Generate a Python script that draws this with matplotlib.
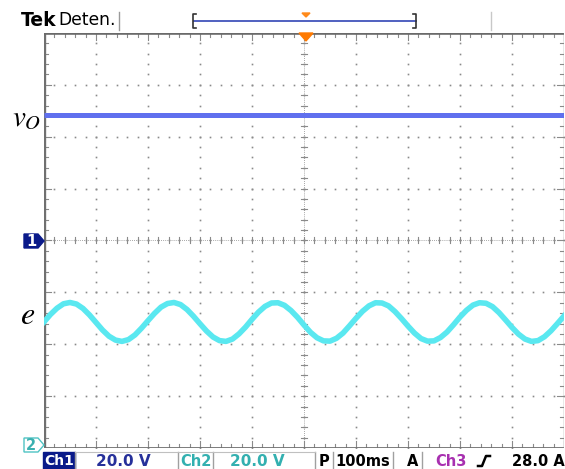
import numpy as np
import matplotlib
matplotlib.use("Agg")
import matplotlib.pyplot as plt
from matplotlib.patches import Polygon, Rectangle

plt.rcParams['mathtext.fontset'] = 'stix'

# screen settings
volts_per_div = 20.0          # Ch1 and Ch2
ms_per_div = 100.0
ch1_offset_div = 4.0          # ground marker 1
ch2_offset_div = 0.06         # ground marker 2

# Ch1: output voltage v_O (flat DC level, V)
vo_level = 48.4

# Ch2: source e, one sample every 12.5 ms (V)
e_values = [47.4, 50.3, 52.7, 54.4, 54.9, 54.3, 52.6, 50.1, 47.2, 44.3,
            41.9, 40.4, 39.9, 40.6, 42.4, 45.0, 47.9, 50.7, 53.1, 54.5,
            54.9, 54.1, 52.2, 49.6, 46.7, 43.9, 41.6, 40.2, 39.9, 40.8,
            42.8, 45.4, 48.4, 51.2, 53.4, 54.7, 54.8, 53.8, 51.8, 49.2,
            46.2, 43.4, 41.3, 40.1, 40.0, 41.1, 43.1, 45.9, 48.8, 51.5,
            53.6, 54.8, 54.7, 53.6, 51.4, 48.7, 45.8, 43.1, 41.0, 40.0,
            40.1, 41.4, 43.5, 46.3, 49.3, 51.9, 53.9, 54.8, 54.6, 53.3,
            51.0, 48.2, 45.3, 42.7, 40.8, 39.9, 40.2, 41.7, 44.0, 46.8,
            49.7]
t_ms = np.arange(len(e_values)) * 12.5

W, H = 565, 469
fig = plt.figure(figsize=(W / 100, H / 100), dpi=100)
fig.patch.set_facecolor('white')

# graticule area in pixels
gx0, gy0, gw, gh = 44, 33, 520, 415
ax = fig.add_axes([gx0 / W, (H - gy0 - gh) / H, gw / W, gh / H])
ax.set_xlim(0, 10)
ax.set_ylim(0, 8)
ax.axis('off')

grid_c = '#8a8a8a'
sub = np.arange(0, 10.01, 0.2)
subv = np.arange(0, 8.01, 0.2)
# dotted division lines
for i in range(1, 10):
    ax.plot(np.full_like(subv, i), subv, 's', ms=1.2, color=grid_c, mew=0)
for j in range(1, 8):
    ax.plot(sub, np.full_like(sub, j), 's', ms=1.2, color=grid_c, mew=0)

px = 10 / gw   # one pixel in x data units
py = 8 / gh
# centre axes with small ticks
for y in subv:
    ax.plot([5 - 3 * px, 5 + 3 * px], [y, y], color=grid_c, lw=0.8)
for x in sub:
    ax.plot([x, x], [4 - 3 * py, 4 + 3 * py], color=grid_c, lw=0.8)
ax.plot([5, 5], [0, 8], color=grid_c, lw=0.6, ls=(0, (1, 1.5)))
ax.plot([0, 10], [4, 4], color=grid_c, lw=0.6, ls=(0, (1, 1.5)))

# border ticks
for y in subv:
    L = 7 if abs(y - round(y)) < 1e-6 else 4
    ax.plot([0, L * px], [y, y], color=grid_c, lw=0.8)
    ax.plot([10 - L * px, 10], [y, y], color=grid_c, lw=0.8)
for x in sub:
    L = 7 if abs(x - round(x)) < 1e-6 else 4
    ax.plot([x, x], [8, 8 - L * py], color=grid_c, lw=0.8)
    ax.plot([x, x], [0, L * py], color=grid_c, lw=0.8)
# thick frame
ax.plot([0, 0], [0, 8], color='#707070', lw=2.4, solid_capstyle='butt')
ax.plot([0, 10], [8, 8], color='#6a6a6a', lw=2.6, solid_capstyle='butt')
ax.plot([0, 10], [0, 0], color='#707070', lw=2.0, solid_capstyle='butt')
ax.plot([10, 10], [0, 8], color='#909090', lw=1.0)

# traces
ax.plot([0, 10], [ch1_offset_div + vo_level / volts_per_div] * 2,
        color='#6070ee', lw=3.6, solid_capstyle='butt', zorder=5)
ax.plot(t_ms / ms_per_div, ch2_offset_div + np.array(e_values) / volts_per_div,
        color='#5ae8f0', lw=4.0, zorder=5)

# overlay in pixel coordinates for the header, footer and markers
ov = fig.add_axes([0, 0, 1, 1], facecolor='none')
ov.set_xlim(0, W)
ov.set_ylim(H, 0)
ov.axis('off')

# header
ov.text(21, 20, 'Tek', fontsize=13.5, fontweight='bold', va='center', ha='left')
ov.text(58, 20, 'Deten.', fontsize=12.3, va='center', ha='left')
ov.plot([119, 119], [12, 30], color='#9a9a9a', lw=1)
ov.plot([491, 491], [12, 30], color='#c8c8c8', lw=1)
ov.plot([194, 416], [21, 21], color='#5060c0', lw=1.4)
ov.plot([196, 193, 193, 196], [14, 14, 28, 28], color='#333333', lw=1.2)
ov.plot([413, 416, 416, 413], [14, 14, 28, 28], color='#333333', lw=1.2)
ov.add_patch(Polygon([[302, 13], [310, 13], [306, 17]], color='#ff8a1a'))
ov.add_patch(Polygon([[299, 33], [313, 33], [306, 41]], color='#ff7a00', zorder=6))

# ground markers
ov.add_patch(Polygon([[24, 234], [38, 234], [44, 241], [38, 248], [24, 248]],
                     closed=True, facecolor='#0a1a8a', edgecolor='#0a1a8a'))
ov.text(31, 241.5, '1', color='white', fontsize=10.5, fontweight='bold',
        ha='center', va='center')
ov.add_patch(Polygon([[24, 438], [38, 438], [44, 445], [38, 452], [24, 452]],
                     closed=True, facecolor='white', edgecolor='#4fc4c4', lw=1))
ov.text(31, 445.5, '2', color='#3ab0b0', fontsize=10.5, fontweight='bold',
        ha='center', va='center')

# trace labels
ov.text(12, 118, r'$v_O$', fontsize=21, ha='left', va='center')
ov.text(20, 315, r'$e$', fontsize=23, ha='left', va='center')

# footer
fy = 461
ov.add_patch(Rectangle((43, 452), 32, 17, color='#0a1a8a'))
ov.text(59, fy, 'Ch1', color='white', fontsize=10, fontweight='bold',
        ha='center', va='center')
ov.text(123, fy, '20.0 V', color='#26309a', fontsize=11, fontweight='bold',
        ha='center', va='center')
ov.text(196, fy, 'Ch2', color='#33b0b0', fontsize=10.5, fontweight='bold',
        ha='center', va='center')
ov.text(257, fy, '20.0 V', color='#33b0b0', fontsize=11, fontweight='bold',
        ha='center', va='center')
ov.text(324, fy, 'P', color='black', fontsize=10.5, fontweight='bold',
        ha='center', va='center')
ov.text(363, fy, '100ms', color='black', fontsize=10.5, fontweight='bold',
        ha='center', va='center')
ov.text(413, fy, 'A', color='black', fontsize=10.5, fontweight='bold',
        ha='center', va='center')
ov.text(451, fy, 'Ch3', color='#a830b0', fontsize=10.5, fontweight='bold',
        ha='center', va='center')
ov.plot([478, 482, 486, 490], [466, 466, 456, 456], color='black', lw=1.8)
ov.text(565, fy, '28.0 A', color='black', fontsize=10.5, fontweight='bold',
        ha='right', va='center')
for sx in [75, 178, 213, 315, 333, 393, 422]:
    ov.plot([sx, sx], [452, 469], color='#a0a0a0', lw=1)
ov.plot([75, 315], [452, 452], color='#c0c0c0', lw=0.8)

fig.savefig('out.png', dpi=100)
